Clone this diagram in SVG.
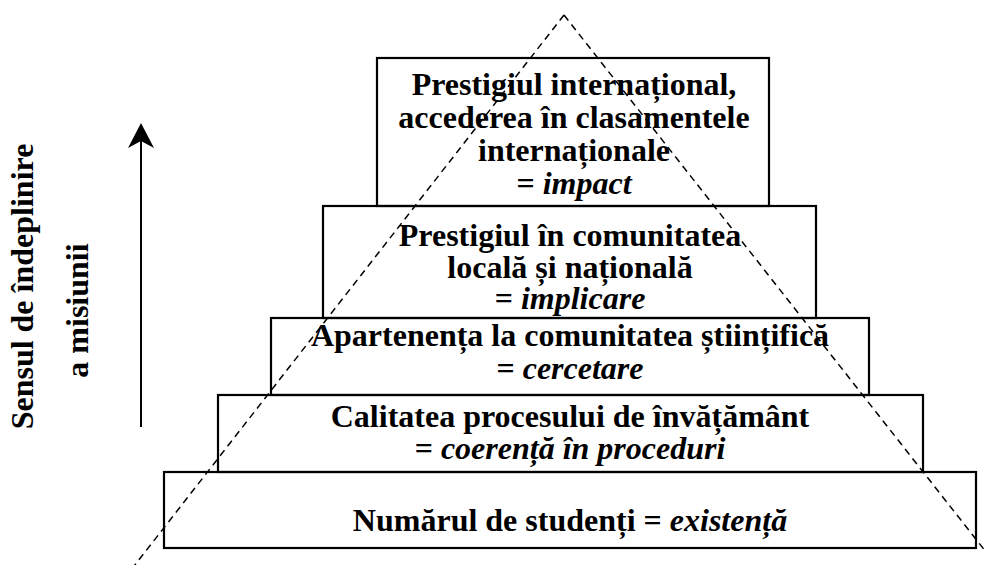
<svg xmlns="http://www.w3.org/2000/svg" width="984" height="565" viewBox="0 0 984 565">
<style>
.box{fill:none;stroke:#000;stroke-width:2.2}
.t{font-family:"Liberation Serif","Times New Roman",serif;font-weight:bold;font-size:32px;fill:#000;text-anchor:middle}
.i{font-style:italic}
.dash{fill:none;stroke:#000;stroke-width:1.5;stroke-dasharray:7 5}
.arr{stroke:#000;stroke-width:2;fill:none}
</style>
<rect width="984" height="565" fill="#fff"/>
<g id="level5">
<rect class="box" x="164" y="472" width="812" height="76"/>
<text class="t" x="570" y="531">Numărul de studenți = <tspan class="i">existență</tspan></text>
</g>
<g id="level4">
<rect class="box" x="218" y="395" width="705" height="77"/>
<text class="t" x="570" y="427">Calitatea procesului de învățământ</text>
<text class="t" x="570" y="459">= <tspan class="i">coerență în proceduri</tspan></text>
</g>
<g id="level3">
<rect class="box" x="271" y="318" width="598" height="77"/>
<text class="t" x="570" y="346">Apartenența la comunitatea științifică</text>
<text class="t" x="570" y="379">= <tspan class="i">cercetare</tspan></text>
</g>
<g id="level2">
<rect class="box" x="323" y="206" width="493" height="112"/>
<text class="t" x="570" y="246">Prestigiul în comunitatea</text>
<text class="t" x="570" y="278">locală și națională</text>
<text class="t" x="570" y="309">= <tspan class="i">implicare</tspan></text>
</g>
<g id="level1">
<rect class="box" x="377" y="58" width="392" height="148"/>
<text class="t" x="574" y="95">Prestigiul internațional,</text>
<text class="t" x="574" y="128">accederea în clasamentele</text>
<text class="t" x="574" y="161">internaționale</text>
<text class="t" x="574" y="194">= <tspan class="i">impact</tspan></text>
</g>
<g id="axis-label">
<text class="t" transform="translate(33,286.5) rotate(-90)">Sensul de îndeplinire</text>
<text class="t" transform="translate(88,310.5) rotate(-90)">a misiunii</text>
</g>
<g id="connectors">
<path class="dash" d="M564 15 L131 570"/>
<path class="dash" d="M564 15 L986 552"/>
<line class="arr" x1="141" y1="427" x2="141" y2="138"/>
<path d="M141 123 L154 148 L141 141 L128 148 Z" fill="#000"/>
</g>
</svg>
